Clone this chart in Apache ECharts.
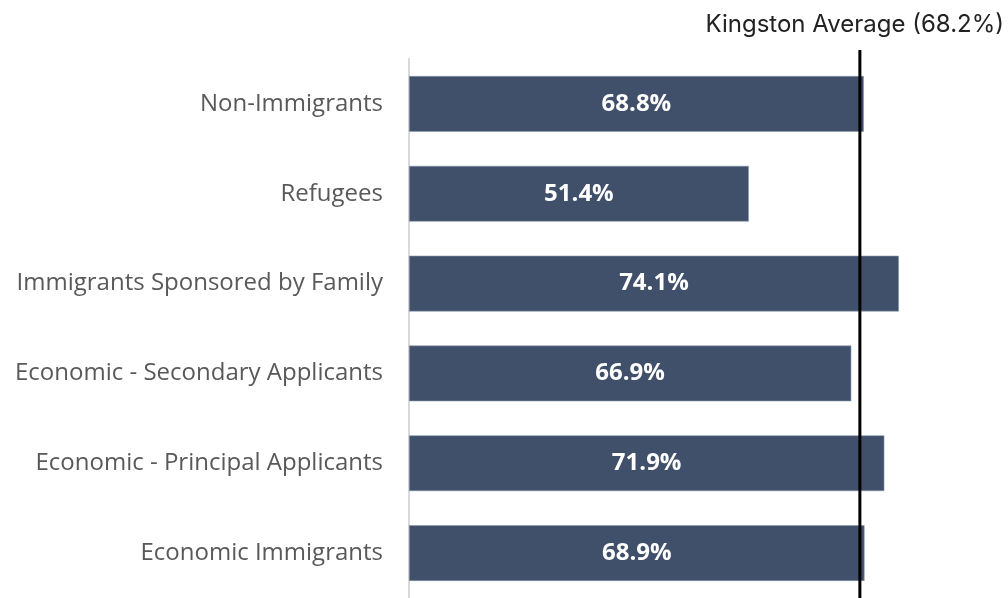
<!DOCTYPE html>
<html>
<head>
<meta charset="utf-8">
<script src="https://cdn.jsdelivr.net/npm/echarts@6/dist/echarts.min.js"></script>
<style>
html,body{margin:0;padding:0;background:#fff;}
#chart{width:1008px;height:598px;}
</style>
</head>
<body>
<div id="chart"></div>
<script>
const categories = [
  "Non-Immigrants",
  "Refugees",
  "Immigrants Sponsored by Family",
  "Economic - Secondary Applicants",
  "Economic - Principal Applicants",
  "Economic Immigrants"
];
const values = [68.8, 51.4, 74.1, 66.9, 71.9, 68.9];
const averageValue = 68.2;
const averageLabel = "Kingston Average (68.2%)";

const chart = echarts.init(document.getElementById('chart'), null, {renderer:'canvas'});
const option = {
  animation: false,
  grid: {left: 409, right: 4, top: 59, bottom: -1, containLabel: false},
  xAxis: {
    type: 'value', min: 0, max: 90, show: false
  },
  yAxis: {
    type: 'category',
    data: categories,
    inverse: true,
    axisLine: {show: true, lineStyle: {color: '#d9d9d9', width: 2}},
    axisTick: {show: false},
    axisLabel: {
      color: '#595959', fontSize: 24, fontFamily: 'Open Sans', margin: 26
    }
  },
  series: [{
    type: 'bar',
    data: values,
    barWidth: '62%',
    itemStyle: {color: '#41506a', borderColor: '#8a97ab', borderWidth: 0.6},
    label: {
      show: true, position: 'inside', color: '#fff', fontWeight: 'bold',
      fontSize: 24, fontFamily: 'Open Sans',
      formatter: p => p.value.toFixed(1) + '%'
    }
  }]
};
chart.setOption(option);
const x = chart.convertToPixel({gridIndex: 0}, [averageValue, 0])[0];
chart.setOption({
  graphic: [
    {type: 'line', shape: {x1: x, y1: 50, x2: x, y2: 598}, style: {stroke: '#000', lineWidth: 3}, z: 100},
    {type: 'text', right: 4, top: 13, style: {text: averageLabel, fill: '#222', fontSize: 24, fontFamily: 'Inter'}}
  ]
});
</script>
</body>
</html>
